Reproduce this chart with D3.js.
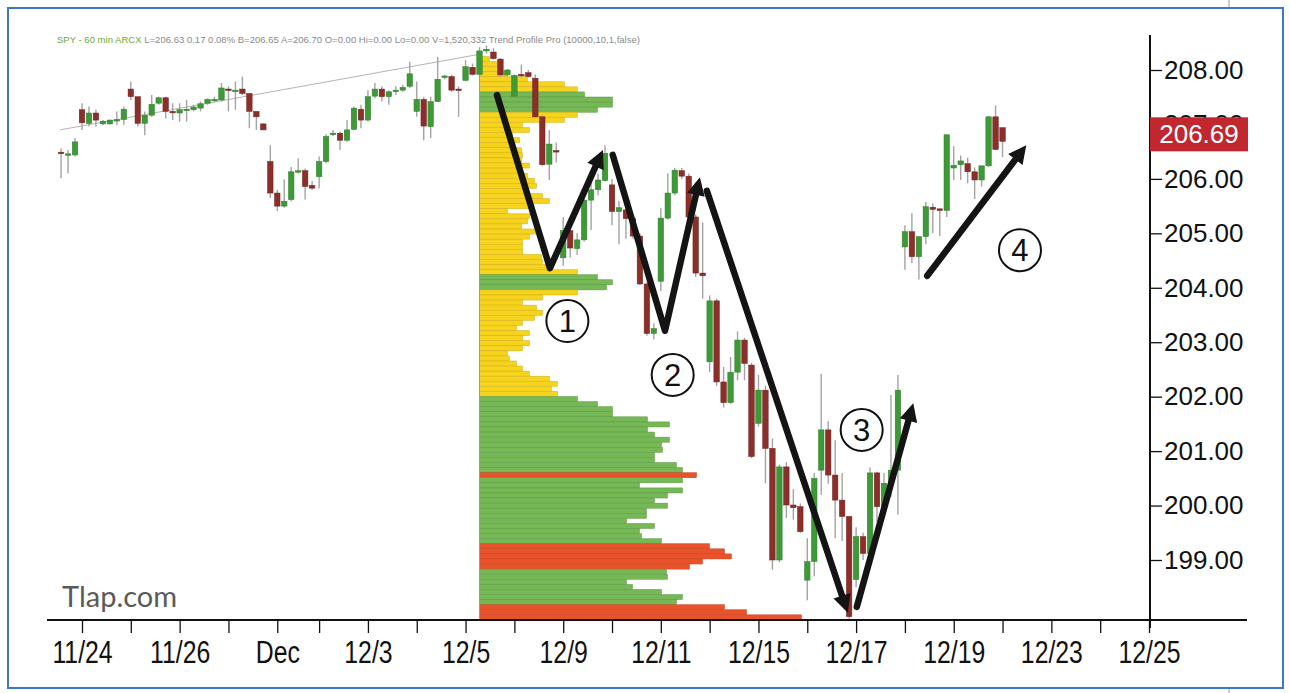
<!DOCTYPE html>
<html>
<head>
<meta charset="utf-8">
<script src="https://cdn.jsdelivr.net/npm/d3@7/dist/d3.min.js"></script>
<style>
  html, body { margin: 0; padding: 0; background: #fff; }
  svg { display: block; }
</style>
</head>
<body>
<div id="chart"></div>
<script>
// SPY 60 min bars, [open, high, low, close]; the first bar sits 3 bars before the 11/24 open
const FIRST_BAR_INDEX = -3;

// 11/21 (last 3 bars), 11/24, 11/25, 11/26, 11/28 (half day)
const week1124 = [
  [206.49, 206.56, 206.01, 206.47], [206.45, 206.53, 206.10, 206.46], [206.44, 206.75, 206.41, 206.68],
  [207.27, 207.39, 206.90, 207.03], [207.02, 207.33, 206.96, 207.21], [207.21, 207.27, 206.96, 207.08],
  [207.01, 207.08, 206.99, 207.06], [207.01, 207.09, 207.00, 207.08], [207.09, 207.24, 206.99, 207.09],
  [207.09, 207.33, 206.99, 207.28],
  [207.65, 207.79, 207.45, 207.51], [207.51, 207.51, 206.96, 207.02], [207.02, 207.24, 206.80, 207.17],
  [207.17, 207.54, 207.14, 207.37], [207.39, 207.51, 207.36, 207.49], [207.49, 207.51, 207.11, 207.24],
  [207.24, 207.39, 207.08, 207.23],
  [207.21, 207.39, 207.05, 207.27], [207.28, 207.45, 207.05, 207.28], [207.27, 207.36, 207.24, 207.32],
  [207.30, 207.42, 207.24, 207.38], [207.39, 207.48, 207.36, 207.46], [207.46, 207.51, 207.42, 207.46],
  [207.45, 207.76, 207.42, 207.67],
  [207.65, 207.70, 207.24, 207.64], [207.63, 207.79, 207.27, 207.63], [207.65, 207.88, 207.54, 207.57],
  [207.57, 207.57, 206.93, 207.24], [207.24, 207.24, 206.90, 207.14], [207.01, 207.02, 206.90, 206.90],
];

// 12/1 .. 12/5
const week1201 = [
  [206.32, 206.62, 205.65, 205.74], [205.74, 205.80, 205.41, 205.50], [205.50, 205.99, 205.47, 205.59],
  [205.62, 206.22, 205.59, 206.13], [206.15, 206.38, 206.10, 206.15], [206.15, 206.19, 205.62, 205.86],
  [205.88, 205.96, 205.80, 205.83],
  [206.04, 206.41, 205.83, 206.32], [206.32, 206.82, 206.29, 206.78], [206.84, 206.90, 206.79, 206.84],
  [206.84, 206.87, 206.53, 206.71], [206.71, 207.08, 206.68, 206.90], [206.91, 207.33, 206.90, 207.30],
  [207.28, 207.36, 206.93, 207.08],
  [207.08, 207.63, 207.06, 207.51], [207.52, 207.76, 207.48, 207.65], [207.65, 207.70, 207.42, 207.51],
  [207.51, 207.63, 207.36, 207.60], [207.63, 207.70, 207.54, 207.63], [207.63, 207.73, 207.60, 207.68],
  [207.70, 208.15, 207.67, 207.93],
  [207.24, 207.79, 207.14, 207.46], [207.46, 207.51, 206.71, 206.97], [206.96, 207.51, 206.75, 207.42],
  [207.42, 208.24, 207.41, 207.83], [207.89, 207.91, 207.83, 207.89], [207.88, 207.91, 207.60, 207.63],
  [207.65, 207.70, 207.14, 207.64],
  [207.81, 208.18, 207.79, 208.06], [208.05, 208.12, 207.90, 207.92], [207.92, 208.42, 207.88, 208.35],
  [208.35, 208.45, 208.30, 208.38], [208.33, 208.40, 208.19, 208.21], [208.20, 208.22, 207.87, 207.91],
  [207.91, 208.02, 207.88, 208.00],
];

// 12/8 .. 12/12
const week1208 = [
  [207.52, 207.92, 207.50, 207.90], [207.92, 208.10, 207.86, 207.90], [207.95, 208.00, 207.86, 207.88],
  [207.85, 207.92, 207.12, 207.14], [207.14, 207.17, 206.23, 206.26], [206.27, 206.90, 205.98, 206.64],
  [206.52, 206.67, 206.30, 206.50],
  [204.55, 205.30, 204.40, 205.05], [205.05, 205.10, 204.55, 204.73], [204.72, 205.00, 204.60, 204.88],
  [204.88, 205.85, 204.85, 205.61], [205.61, 205.98, 205.06, 205.80], [205.80, 206.10, 205.70, 205.98],
  [205.97, 206.62, 205.95, 206.47],
  [205.89, 206.00, 205.15, 205.40], [205.40, 205.60, 204.80, 205.47], [205.43, 205.50, 204.90, 205.27],
  [205.27, 205.30, 204.90, 204.95], [204.95, 205.00, 204.05, 204.07], [204.07, 204.10, 203.12, 203.16],
  [203.16, 203.35, 203.05, 203.25],
  [204.12, 205.46, 203.94, 205.28], [205.28, 206.10, 205.25, 205.74], [205.74, 206.20, 205.70, 206.16],
  [206.15, 206.20, 206.00, 206.05], [206.05, 206.10, 205.25, 205.30], [205.30, 205.35, 204.20, 204.27],
  [204.27, 205.20, 203.80, 204.22],
  [202.64, 203.86, 202.45, 203.76], [203.76, 203.80, 202.20, 202.27], [202.27, 202.55, 201.80, 201.89],
  [201.89, 202.73, 201.87, 202.45], [202.45, 203.20, 202.30, 203.04], [203.04, 203.08, 202.30, 202.61],
  [202.58, 202.62, 200.87, 200.90],
];

// 12/15 .. 12/19
const week1215 = [
  [201.51, 202.40, 201.45, 202.12], [202.12, 202.20, 200.41, 201.05], [201.05, 201.23, 198.82, 199.00],
  [199.00, 200.75, 198.96, 200.71], [200.71, 200.80, 199.77, 200.01], [200.01, 200.30, 199.74, 199.96],
  [199.98, 200.04, 199.50, 199.52],
  [198.63, 199.40, 198.26, 198.97], [198.97, 200.60, 198.70, 200.50], [200.65, 202.42, 200.20, 201.39],
  [201.39, 201.55, 200.40, 200.56], [200.56, 201.20, 199.40, 200.10], [200.10, 200.60, 199.35, 199.80],
  [199.80, 199.80, 197.92, 197.96],
  [198.64, 199.60, 198.50, 199.43], [199.43, 199.50, 199.00, 199.12], [199.12, 200.70, 199.10, 200.60],
  [200.60, 200.62, 199.70, 199.98], [199.98, 200.60, 199.90, 200.41], [200.41, 202.03, 200.16, 200.65],
  [200.65, 202.40, 199.83, 202.12],
  [204.75, 205.15, 204.33, 205.03], [205.03, 205.37, 204.45, 204.57], [204.57, 204.94, 204.15, 204.94],
  [204.94, 205.58, 204.80, 205.49], [205.48, 205.55, 205.00, 205.44], [205.45, 205.45, 204.95, 205.42],
  [205.42, 206.81, 205.30, 206.81],
  [206.20, 206.60, 205.98, 206.25], [206.26, 206.43, 205.98, 206.33], [206.28, 206.39, 205.92, 206.13],
  [206.13, 206.21, 205.63, 205.98], [205.98, 206.24, 205.86, 206.24], [206.24, 207.15, 206.22, 207.14],
  [207.14, 207.35, 206.53, 206.54],
];

// 12/22 first bar
const week1222 = [
  [206.94, 206.94, 206.40, 206.69],
];

// day ticks (bar index of each session open) and the labels on every second one
const dayTickIndex = [0, 7, 14, 21, 28, 34, 41, 48, 55, 62, 69, 76, 83, 90, 97, 104, 111, 118, 125, 132, 139, 146, 153];
const dayTickLabels = ['11/24', '11/26', 'Dec', '12/3', '12/5', '12/9', '12/11', '12/15', '12/17', '12/19', '12/23', '12/25'];
const priceTicks = [199, 200, 201, 202, 203, 204, 205, 206, 207, 208];

// Trend Profile Pro: volume per price bin (top bin first) and its zone (y yellow, g green, r red)
const profileStartIndex = 57;
const profileHigh = 208.25;
const profileLow = 197.90;
const profileVolume = [
  100, 180, 230, 270, 480, 850, 980, 1050, 1330, 1330, 1180, 980, 850, 430, 500, 330, 400, 330, 420, 430,
  420, 500, 400, 480, 550, 570, 480, 630, 700, 500, 280, 500, 480, 420, 570, 500, 430, 430, 430, 620,
  630, 720, 980, 1180, 1330, 1270, 980, 630, 430, 570, 630, 550, 430, 370, 500, 430, 500, 430, 280, 300,
  370, 430, 500, 700, 780, 720, 780, 980, 1180, 1330, 1330, 1680, 1900, 1680, 1750, 1900, 1820, 1830, 1750, 1750,
  1970, 2030, 2170, 2030, 1600, 2030, 1880, 1750, 1880, 1670, 1670, 1470, 1750, 1600, 1620, 1820, 2300, 2450, 2520, 2230,
  2100, 1870, 1880, 1470, 1530, 1820, 2030, 1970, 2450, 2670, 3220,
];
const profileZone =
  'yyyyyyyggggyyyyyyyyyyyyyyyyyyyyyyyyyyyyyyyyggg' +
  'yyyyyyyyyyyyyyyyyyyyy' +
  'gggggggggggggggrggggggggggggg' +
  'rrrrrggggggg' + 'rrr';

// drawn annotations in [bar index, price]
const waveArrows = [
  [[59.5, 207.54], [67.1, 204.36], [74.7, 206.53]],
  [[76.1, 206.44], [83.6, 203.21], [88.6, 206.03]],
  [[89.6, 205.78], [109.8, 198.03]],
  [[111.1, 198.14], [119.2, 201.88]],
  [[121.2, 204.22], [135.4, 206.62]],
];
const waveLabels = ['1', '2', '3', '4'];
const waveLabelAt = [[69.6, 203.39], [84.7, 202.40], [111.8, 201.39], [134.5, 204.69]];
const trendLine = [[-3.15, 206.90], [56.6, 208.28]];

const headerSymbol = 'SPY - 60 min ARCX';
const headerQuote = ' L=206.63 0.17 0.08% B=206.65 A=206.70 O=0.00 Hi=0.00 Lo=0.00 V=1,520,332 Trend Profile Pro (10000,10,1,false)';

// ---------------------------------------------------------------

const W = 1290, H = 693;
const plotTop = 35, plotBottom = 620;

const bars = [...week1124, ...week1201, ...week1208, ...week1215, ...week1222]
  .map((b, k) => ({ i: k + FIRST_BAR_INDEX, o: b[0], h: b[1], l: b[2], c: b[3] }));
const lastClose = bars[bars.length - 1].c;

const x = d3.scaleLinear().domain([0, 153]).range([82, 1149]);
const y = d3.scaleLinear().domain([199, 208]).range([560, 70]);
const vol = d3.scaleLinear().domain([0, 3220]).range([0, 322]);
const axisX = x(dayTickIndex[dayTickIndex.length - 1]) + 1;
const px = (p) => [x(p[0]), y(p[1])];

const svg = d3.select('#chart').append('svg')
  .attr('width', W)
  .attr('height', H)
  .attr('viewBox', `0 0 ${W} ${H}`);

svg.append('rect').attr('width', W).attr('height', H).attr('fill', '#fff');

// frame
svg.append('rect')
  .attr('x', 8).attr('y', 8)
  .attr('width', 1275).attr('height', 680)
  .attr('fill', 'none')
  .attr('stroke', '#3b78c8')
  .attr('stroke-width', 2);
svg.append('line').attr('x1', 1229).attr('x2', 1229).attr('y1', 0).attr('y2', 7)
  .attr('stroke', '#999').attr('stroke-width', 1);
svg.append('line').attr('x1', 1229).attr('x2', 1229).attr('y1', 689).attr('y2', 693)
  .attr('stroke', '#999').attr('stroke-width', 1);

// header line
const header = svg.append('text')
  .attr('x', 57).attr('y', 43)
  .attr('font-family', 'Liberation Sans, Arial, sans-serif')
  .attr('font-size', 9)
  .attr('textLength', 583)
  .attr('lengthAdjust', 'spacingAndGlyphs');
header.append('tspan').attr('fill', '#6aaa3c').text(headerSymbol);
header.append('tspan').attr('fill', '#8a8a8a').text(headerQuote);

// thin trend line
svg.append('line')
  .attr('x1', px(trendLine[0])[0]).attr('y1', px(trendLine[0])[1])
  .attr('x2', px(trendLine[1])[0]).attr('y2', px(trendLine[1])[1])
  .attr('stroke', '#b4b4b4')
  .attr('stroke-width', 1);

// volume profile
const zoneStyle = {
  y: { fill: '#f6d31c', stroke: '#d2ad18' },
  g: { fill: '#76b855', stroke: '#5a9843' },
  r: { fill: '#e9532c', stroke: '#c94424' },
};
const binSize = (profileHigh - profileLow) / profileVolume.length;
const profileData = profileVolume.map((v, k) => ({
  v,
  zone: profileZone[k] || 'g',
  top: profileHigh - k * binSize,
}));

const profileG = svg.append('g').attr('class', 'profile');
profileG.selectAll('rect')
  .data(profileData)
  .join('rect')
  .attr('x', x(profileStartIndex))
  .attr('y', (d) => y(d.top))
  .attr('width', (d) => vol(d.v))
  .attr('height', (d) => y(d.top - binSize) - y(d.top))
  .attr('fill', (d) => zoneStyle[d.zone].fill)
  .attr('stroke', (d) => zoneStyle[d.zone].stroke)
  .attr('stroke-width', 0.5);
profileG.append('line')
  .attr('x1', x(profileStartIndex)).attr('x2', x(profileStartIndex))
  .attr('y1', y(profileHigh)).attr('y2', plotBottom)
  .attr('stroke', '#9a9a9a')
  .attr('stroke-width', 1);

// candles
const candleW = 5.5;
const candleG = svg.append('g').attr('class', 'candles');
candleG.selectAll('line')
  .data(bars)
  .join('line')
  .attr('x1', (d) => x(d.i)).attr('x2', (d) => x(d.i))
  .attr('y1', (d) => y(d.h)).attr('y2', (d) => y(d.l))
  .attr('stroke', '#a3a3a3')
  .attr('stroke-width', 1.4);
candleG.selectAll('rect')
  .data(bars)
  .join('rect')
  .attr('x', (d) => x(d.i) - candleW / 2)
  .attr('y', (d) => y(Math.max(d.o, d.c)))
  .attr('width', candleW)
  .attr('height', (d) => Math.max(1.5, Math.abs(y(d.o) - y(d.c))))
  .attr('fill', (d) => (d.c >= d.o ? '#3d9a37' : '#8c2e2a'))
  .attr('stroke', (d) => (d.c >= d.o ? '#2d7d2a' : '#6f2220'))
  .attr('stroke-width', 0.5);

// wave arrows
const arrowG = svg.append('g').attr('class', 'arrows');
const headLen = 18, headHalf = 9;
waveArrows.forEach((pts) => {
  const p = pts.map(px);
  const [ax, ay] = p[p.length - 2];
  const [bx, by] = p[p.length - 1];
  const len = Math.hypot(bx - ax, by - ay);
  const ux = (bx - ax) / len, uy = (by - ay) / len;
  const shaft = p.slice(0, -1).concat([[bx - ux * headLen * 0.6, by - uy * headLen * 0.6]]);

  arrowG.append('path')
    .attr('d', d3.line()(shaft))
    .attr('fill', 'none')
    .attr('stroke', '#141414')
    .attr('stroke-width', 6.5)
    .attr('stroke-linecap', 'round')
    .attr('stroke-linejoin', 'round');

  const baseX = bx - ux * headLen, baseY = by - uy * headLen;
  arrowG.append('path')
    .attr('d', d3.line()([
      [bx, by],
      [baseX - uy * headHalf, baseY + ux * headHalf],
      [baseX + uy * headHalf, baseY - ux * headHalf],
    ]) + 'Z')
    .attr('fill', '#141414');
});

// circled wave numbers
const labelG = svg.append('g').attr('class', 'wave-labels');
labelG.selectAll('circle')
  .data(waveLabelAt)
  .join('circle')
  .attr('cx', (d) => px(d)[0])
  .attr('cy', (d) => px(d)[1])
  .attr('r', 21)
  .attr('fill', 'none')
  .attr('stroke', '#111')
  .attr('stroke-width', 2);
labelG.selectAll('text')
  .data(waveLabelAt)
  .join('text')
  .attr('x', (d) => px(d)[0])
  .attr('y', (d) => px(d)[1] + 11)
  .attr('text-anchor', 'middle')
  .attr('font-family', 'Liberation Sans, Arial, sans-serif')
  .attr('font-size', 31)
  .attr('fill', '#111')
  .text((d, k) => waveLabels[k]);

// x axis
const labelByIndex = new Map(dayTickIndex.filter((d, k) => k % 2 === 0).map((d, k) => [d, dayTickLabels[k]]));
const xAxisG = svg.append('g')
  .attr('transform', `translate(0,${plotBottom})`)
  .call(d3.axisBottom(x)
    .tickValues(dayTickIndex)
    .tickSize(13)
    .tickPadding(8)
    .tickFormat((d) => labelByIndex.get(d) || ''));
xAxisG.select('.domain').remove();
xAxisG.selectAll('.tick line').attr('stroke', '#111').attr('stroke-width', 1.3);
xAxisG.selectAll('.tick text')
  .attr('fill', '#111')
  .attr('font-family', 'Liberation Sans, Arial, sans-serif')
  .attr('font-size', 31)
  .each(function () {
    // condensed look of the original axis font
    const w = this.getComputedTextLength();
    if (w > 0) {
      d3.select(this)
        .attr('textLength', w * 0.8)
        .attr('lengthAdjust', 'spacingAndGlyphs');
    }
  });
svg.append('line')
  .attr('x1', 47).attr('x2', 1247)
  .attr('y1', plotBottom).attr('y2', plotBottom)
  .attr('stroke', '#111')
  .attr('stroke-width', 2);

// y axis
const yAxisG = svg.append('g')
  .attr('transform', `translate(${axisX},0)`)
  .call(d3.axisRight(y)
    .tickValues(priceTicks)
    .tickSize(12)
    .tickPadding(2)
    .tickFormat(d3.format('.2f')));
yAxisG.select('.domain').remove();
yAxisG.selectAll('.tick line').attr('stroke', '#111').attr('stroke-width', 1.3);
yAxisG.selectAll('.tick text')
  .attr('fill', '#111')
  .attr('font-family', 'Liberation Sans, Arial, sans-serif')
  .attr('font-size', 26);
svg.append('line')
  .attr('x1', axisX).attr('x2', axisX)
  .attr('y1', plotTop).attr('y2', plotBottom + 8)
  .attr('stroke', '#111')
  .attr('stroke-width', 2);

// last price tag (covers most of the 207.00 label, as on the original)
const tagY = y(lastClose) - 24;
svg.append('rect')
  .attr('x', axisX).attr('y', tagY)
  .attr('width', 98).attr('height', 34)
  .attr('fill', '#c1272f');
svg.append('text')
  .attr('x', axisX + 49).attr('y', tagY + 26)
  .attr('text-anchor', 'middle')
  .attr('font-family', 'Liberation Sans, Arial, sans-serif')
  .attr('font-size', 26)
  .attr('fill', '#fff')
  .text(lastClose.toFixed(2));

// watermark
svg.append('text')
  .attr('x', 62).attr('y', 607)
  .attr('font-family', 'Lato, Open Sans, sans-serif')
  .attr('font-size', 29)
  .attr('fill', '#5a5a5a')
  .text('Tlap.com');
</script>
</body>
</html>
